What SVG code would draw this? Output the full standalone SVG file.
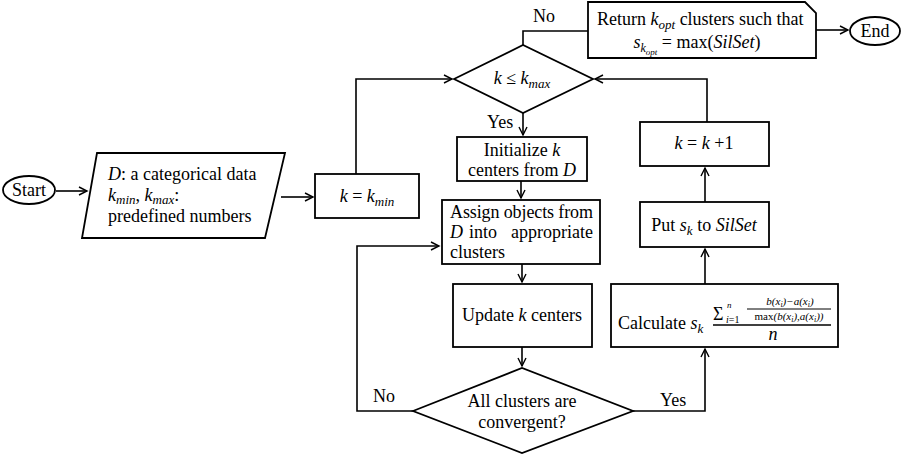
<svg xmlns="http://www.w3.org/2000/svg" width="904" height="459" viewBox="0 0 904 459" font-family="Liberation Serif, serif">
<defs>
<marker id="arr" markerUnits="userSpaceOnUse" markerWidth="12" markerHeight="12" viewBox="-10 -6 12 12" refX="0" refY="0" orient="auto">
<path d="M-8,-4 L0,0 L-8,4" fill="none" stroke="#000" stroke-width="1.4"/>
</marker>
</defs>
<style>
text{font-family:'Liberation Serif',serif;font-size:18px;fill:#000}
.m{font-style:italic}
.s{font-size:13px;font-style:italic}
.shape{fill:#fff;stroke:#000;stroke-width:1.8}
.c{fill:none;stroke:#000;stroke-width:1.6}
.f{font-size:11px;font-style:italic}
</style>
<rect width="904" height="459" fill="#fff"/>

<g id="connectors">
<path class="c" d="M56,191 L87,191" marker-end="url(#arr)"/>
<path class="c" d="M281,197 L313,197" marker-end="url(#arr)"/>
<path class="c" d="M356,174 L356,79 L452,79" marker-end="url(#arr)"/>
<path class="c" d="M523,45 L523,31 L588,31"/>
<path class="c" d="M816,30 L848,30" marker-end="url(#arr)"/>
<path class="c" d="M523,113 L523,135" marker-end="url(#arr)"/>
<path class="c" d="M521,181 L521,198" marker-end="url(#arr)"/>
<path class="c" d="M522,264 L522,282" marker-end="url(#arr)"/>
<path class="c" d="M522,347 L522,366" marker-end="url(#arr)"/>
<path class="c" d="M413,411 L357,411 L357,246 L439,246" marker-end="url(#arr)"/>
<path class="c" d="M633,411 L705,411 L705,349" marker-end="url(#arr)"/>
<path class="c" d="M705,284 L705,249" marker-end="url(#arr)"/>
<path class="c" d="M705,202 L705,168" marker-end="url(#arr)"/>
<path class="c" d="M707,122 L707,79 L595,79" marker-end="url(#arr)"/>
</g>

<g id="labels">
<text x="533" y="22">No</text>
<text x="487" y="128">Yes</text>
<text x="373" y="402">No</text>
<text x="660" y="406">Yes</text>
</g>

<g id="start">
<ellipse class="shape" cx="29" cy="190" rx="26" ry="14"/>
<text x="29" y="196" text-anchor="middle">Start</text>
</g>

<g id="input">
<polygon class="shape" points="97,153 285,153 265,238 82,238"/>
<text x="108" y="180"><tspan class="m">D</tspan>: a categorical data</text>
<text x="108" y="201"><tspan class="m">k</tspan><tspan class="s" dy="3">min</tspan><tspan dy="-3">, </tspan><tspan class="m">k</tspan><tspan class="s" dy="3">max</tspan><tspan dy="-3">:</tspan></text>
<text x="108" y="222">predefined numbers</text>
</g>

<g id="kmin">
<rect class="shape" x="315" y="174" width="104" height="44"/>
<text x="367" y="202" text-anchor="middle"><tspan class="m">k</tspan> = <tspan class="m">k</tspan><tspan class="s" dy="4">min</tspan></text>
</g>

<g id="cond-kmax">
<polygon class="shape" points="454,79 523,45 593,79 523,113"/>
<text x="522" y="84" text-anchor="middle"><tspan class="m">k</tspan> ≤ <tspan class="m">k</tspan><tspan class="s" dy="4">max</tspan></text>
</g>

<g id="return">
<path class="shape" d="M588,2 L805,2 L816,13 L816,58 L588,58 Z"/>
<text x="597" y="25">Return <tspan class="m">k</tspan><tspan class="s" dy="4">opt</tspan><tspan dy="-4"> clusters such that</tspan></text>
<text x="697" y="48" text-anchor="middle"><tspan class="m">s</tspan><tspan class="m" font-size="12" dy="4">k</tspan><tspan class="m" font-size="9" dy="3">opt</tspan><tspan dy="-7"> = max(</tspan><tspan class="m">SilSet</tspan>)</text>
</g>

<g id="end">
<ellipse class="shape" cx="875" cy="31" rx="25" ry="14"/>
<text x="875" y="37" text-anchor="middle">End</text>
</g>

<g id="init">
<rect class="shape" x="457" y="137" width="130" height="44"/>
<text x="522" y="156" text-anchor="middle">Initialize <tspan class="m">k</tspan></text>
<text x="522" y="176" text-anchor="middle">centers from <tspan class="m">D</tspan></text>
</g>

<g id="assign">
<rect class="shape" x="442" y="200" width="158" height="64"/>
<text x="450" y="218" textLength="143" lengthAdjust="spacing">Assign objects from</text>
<text x="450" y="238" class="m">D</text>
<text x="469" y="238">into</text>
<text x="593" y="238" text-anchor="end">appropriate</text>
<text x="450" y="258">clusters</text>
</g>

<g id="update">
<rect class="shape" x="453" y="284" width="139" height="63"/>
<text x="522" y="321" text-anchor="middle">Update <tspan class="m">k</tspan> centers</text>
</g>

<g id="converge">
<polygon class="shape" points="413,411 522,368 633,411 522,453"/>
<text x="522" y="407" text-anchor="middle">All clusters are</text>
<text x="522" y="428" text-anchor="middle">convergent?</text>
</g>

<g id="calculate">
<rect class="shape" x="611" y="284" width="227" height="63"/>
<text x="618" y="329">Calculate <tspan class="m">s</tspan><tspan class="s" dy="4">k</tspan></text>
<text x="713" y="320" font-size="16">Σ<tspan x="727" y="308" font-size="9" font-style="italic">n</tspan><tspan x="726" y="323" font-size="10" font-style="italic">i</tspan><tspan font-size="10">=1</tspan></text>
<text x="790" y="305" class="f" text-anchor="middle">b(x<tspan font-size="8" dy="2">i</tspan><tspan dy="-2">)−a(x</tspan><tspan font-size="8" dy="2">i</tspan><tspan dy="-2">)</tspan></text>
<line x1="747" y1="309" x2="831" y2="309" stroke="#000" stroke-width="1"/>
<text x="789" y="320" class="f" text-anchor="middle"><tspan font-style="normal">max</tspan>(b(x<tspan font-size="8" dy="2">i</tspan><tspan dy="-2">),a(x</tspan><tspan font-size="8" dy="2">i</tspan><tspan dy="-2">))</tspan></text>
<line x1="713" y1="325" x2="831" y2="325" stroke="#000" stroke-width="1.6"/>
<text x="773" y="340" class="m" font-size="14" text-anchor="middle">n</text>
</g>

<g id="put">
<rect class="shape" x="640" y="202" width="129" height="45"/>
<text x="704" y="231" text-anchor="middle">Put <tspan class="m">s</tspan><tspan class="s" dy="4">k</tspan><tspan dy="-4"> to </tspan><tspan class="m">SilSet</tspan></text>
</g>

<g id="kinc">
<rect class="shape" x="640" y="122" width="129" height="44"/>
<text x="704" y="149" text-anchor="middle"><tspan class="m">k</tspan> = <tspan class="m">k</tspan> +1</text>
</g>
</svg>
